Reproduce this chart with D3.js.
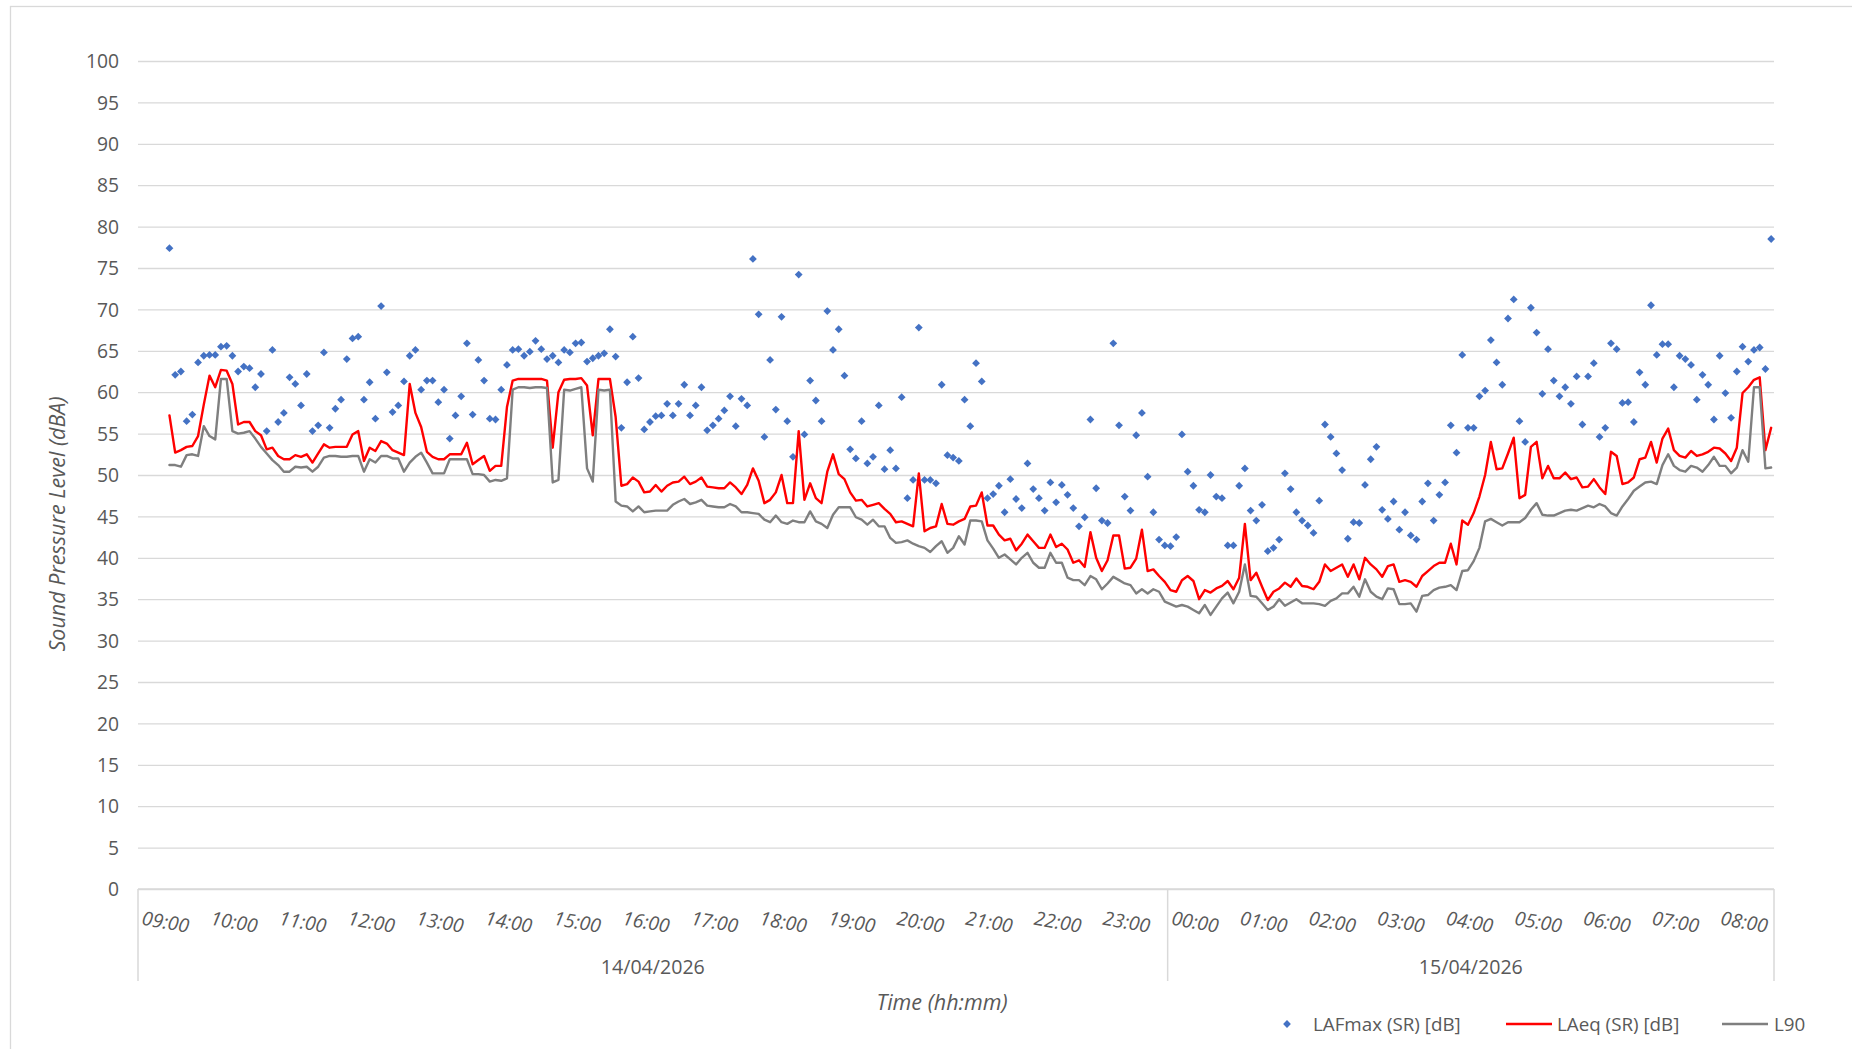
<!DOCTYPE html>
<meta charset="utf-8">
<style>
body { margin: 0; background: #fff; }
text { font-family: "Open Sans", "DejaVu Sans", sans-serif; fill: #595959; }
.grid line { stroke: #d9d9d9; stroke-width: 1.3px; }
.grid .domain { display: none; }
.grid text { font-size: 19.3px; }
.xlab { font-size: 19.3px; font-style: italic; }
.datelab { font-size: 19.6px; }
.title { font-size: 21.5px; font-style: italic; }
.legend text { font-size: 18.8px; }
.series { fill: none; stroke-width: 2.4px; stroke-linejoin: round; stroke-linecap: round; }
</style>
<svg width="1852" height="1049"></svg>
<script src="https://d3js.org/d3.v7.min.js"></script>
<script>
// category axis: 5-minute slots, data starts at slot 5 (09:00)
var slotCount = 286;
var firstSlot = 5;
var slotsPerHour = 12;
var hourLabels = ["09:00", "10:00", "11:00", "12:00", "13:00", "14:00", "15:00", "16:00",
  "17:00", "18:00", "19:00", "20:00", "21:00", "22:00", "23:00", "00:00", "01:00", "02:00",
  "03:00", "04:00", "05:00", "06:00", "07:00", "08:00"];
var dateLabels = ["14/04/2026", "15/04/2026"];
var dateSlotCounts = [180, 106];
var yTicks = [0, 5, 10, 15, 20, 25, 30, 35, 40, 45, 50, 55, 60, 65, 70, 75, 80, 85, 90, 95, 100];

var lafmax = [
  77.4, 62.1, 62.5, 56.5, 57.3, 63.6, 64.4, 64.5, 64.5, 65.5,
  65.6, 64.4, 62.5, 63.1, 62.9, 60.6, 62.2, 55.3, 65.1, 56.4,
  57.5, 61.8, 61.0, 58.4, 62.2, 55.3, 56.0, 64.8, 55.7, 58.0,
  59.1, 64.0, 66.5, 66.7, 59.1, 61.2, 56.8, 70.4, 62.4, 57.6,
  58.4, 61.3, 64.4, 65.1, 60.3, 61.4, 61.4, 58.8, 60.3, 54.4,
  57.2, 59.5, 65.9, 57.3, 63.9, 61.4, 56.8, 56.7, 60.3, 63.3,
  65.1, 65.2, 64.4, 64.9, 66.2, 65.2, 64.0, 64.4, 63.6, 65.1,
  64.8, 65.9, 66.0, 63.7, 64.1, 64.4, 64.7, 67.6, 64.3, 55.7,
  61.2, 66.7, 61.7, 55.5, 56.4, 57.1, 57.2, 58.6, 57.2, 58.6,
  60.9, 57.2, 58.4, 60.6, 55.4, 56.0, 56.8, 57.8, 59.5, 55.9,
  59.2, 58.4, 76.1, 69.4, 54.6, 63.9, 57.9, 69.1, 56.5, 52.2,
  74.2, 54.9, 61.4, 59.0, 56.5, 69.8, 65.1, 67.6, 62.0, 53.1,
  52.0, 56.5, 51.4, 52.2, 58.4, 50.7, 53.0, 50.8, 59.4, 47.2,
  49.4, 67.8, 49.4, 49.4, 49.0, 60.9, 52.4, 52.1, 51.7, 59.1,
  55.9, 63.5, 61.3, 47.2, 47.7, 48.7, 45.5, 49.5, 47.1, 46.0,
  51.4, 48.3, 47.2, 45.7, 49.1, 46.7, 48.8, 47.6, 46.0, 43.8,
  44.9, 56.7, 48.4, 44.5, 44.2, 65.9, 56.0, 47.4, 45.7, 54.8,
  57.5, 49.8, 45.5, 42.2, 41.5, 41.4, 42.5, 54.9, 50.4, 48.7,
  45.8, 45.5, 50.0, 47.4, 47.2, 41.5, 41.5, 48.7, 50.8, 45.7,
  44.5, 46.4, 40.8, 41.2, 42.2, 50.2, 48.3, 45.5, 44.5, 43.9,
  43.0, 46.9, 56.1, 54.6, 52.6, 50.6, 42.3, 44.3, 44.2, 48.8,
  51.9, 53.4, 45.8, 44.7, 46.8, 43.4, 45.5, 42.7, 42.2, 46.8,
  49.0, 44.5, 47.6, 49.1, 56.0, 52.7, 64.5, 55.7, 55.7, 59.5,
  60.2, 66.3, 63.6, 60.9, 68.9, 71.2, 56.5, 54.0, 70.2, 67.2,
  59.8, 65.2, 61.4, 59.5, 60.6, 58.6, 61.9, 56.1, 61.9, 63.5,
  54.6, 55.7, 65.9, 65.2, 58.7, 58.8, 56.4, 62.4, 60.9, 70.5,
  64.5, 65.8, 65.8, 60.6, 64.4, 64.0, 63.3, 59.1, 62.1, 60.9,
  56.7, 64.4, 59.9, 56.9, 62.5, 65.5, 63.7, 65.1, 65.4, 62.8,
  78.5];

var laeq = [
  57.2, 52.7, 53.0, 53.4, 53.5, 54.7, 58.5, 62.0, 60.6, 62.7,
  62.6, 61.0, 56.1, 56.4, 56.4, 55.3, 54.8, 53.1, 53.3, 52.3,
  51.9, 51.9, 52.4, 52.2, 52.5, 51.5, 52.6, 53.7, 53.3, 53.4,
  53.4, 53.4, 54.9, 55.3, 51.7, 53.3, 52.9, 54.1, 53.8, 53.0,
  52.7, 52.4, 61.0, 57.5, 55.8, 52.8, 52.2, 51.9, 51.9, 52.5,
  52.5, 52.5, 53.9, 51.3, 51.8, 52.3, 50.5, 51.1, 51.1, 58.2,
  61.4, 61.6, 61.6, 61.6, 61.6, 61.6, 61.4, 53.3, 60.0, 61.5,
  61.6, 61.6, 61.7, 60.8, 54.8, 61.6, 61.6, 61.6, 57.0, 48.7,
  48.9, 49.7, 49.2, 47.9, 48.0, 48.8, 48.0, 48.7, 49.1, 49.2,
  49.8, 48.9, 49.2, 49.7, 48.6, 48.5, 48.4, 48.4, 49.1, 48.5,
  47.7, 48.8, 50.8, 49.3, 46.6, 47.0, 47.9, 50.0, 46.6, 46.6,
  55.3, 47.0, 49.0, 47.2, 46.6, 50.4, 52.5, 50.1, 49.5, 47.9,
  46.9, 47.0, 46.2, 46.4, 46.6, 45.9, 45.3, 44.3, 44.4, 44.1,
  43.8, 50.2, 43.2, 43.6, 43.8, 46.5, 44.1, 44.0, 44.4, 44.7,
  46.2, 46.3, 47.9, 43.9, 43.9, 42.8, 42.1, 42.3, 40.9, 41.7,
  42.8, 42.0, 41.2, 41.2, 42.8, 41.3, 41.7, 41.0, 39.4, 39.7,
  38.9, 43.1, 40.0, 38.4, 39.7, 42.7, 42.7, 38.7, 38.8, 39.9,
  43.4, 38.4, 38.6, 37.8, 37.1, 36.1, 35.9, 37.3, 37.8, 37.2,
  35.0, 36.1, 35.8, 36.3, 36.6, 37.2, 36.2, 37.6, 44.1, 37.3,
  38.2, 36.5, 34.9, 35.9, 36.3, 37.0, 36.5, 37.5, 36.6, 36.5,
  36.2, 37.1, 39.2, 38.4, 38.8, 39.2, 37.7, 39.2, 37.4, 40.0,
  39.2, 38.6, 37.7, 39.0, 39.2, 37.1, 37.3, 37.1, 36.5, 37.8,
  38.4, 39.0, 39.4, 39.4, 41.7, 39.2, 44.5, 44.0, 45.4, 47.4,
  50.0, 54.0, 50.7, 50.8, 52.6, 54.5, 47.2, 47.6, 53.4, 54.0,
  49.6, 51.1, 49.6, 49.6, 50.3, 49.5, 49.7, 48.5, 48.6, 49.5,
  48.5, 47.7, 52.8, 52.3, 48.9, 49.1, 49.7, 51.9, 52.1, 54.0,
  51.5, 54.4, 55.6, 53.0, 52.3, 52.1, 52.9, 52.3, 52.5, 52.8,
  53.3, 53.2, 52.6, 51.7, 53.3, 59.9, 60.6, 61.5, 61.8, 53.0,
  55.7];

var l90 = [
  51.2, 51.2, 51.0, 52.4, 52.5, 52.3, 55.9, 54.7, 54.3, 61.6,
  61.6, 55.3, 55.0, 55.1, 55.3, 54.4, 53.4, 52.6, 51.8, 51.2,
  50.4, 50.4, 51.0, 50.9, 51.0, 50.4, 51.0, 52.1, 52.3, 52.3,
  52.2, 52.2, 52.3, 52.3, 50.4, 51.9, 51.5, 52.3, 52.3, 52.0,
  52.0, 50.4, 51.5, 52.2, 52.7, 51.5, 50.2, 50.2, 50.2, 51.9,
  51.9, 51.9, 51.9, 50.1, 50.1, 50.0, 49.2, 49.4, 49.3, 49.6,
  60.3, 60.6, 60.6, 60.5, 60.6, 60.6, 60.5, 49.1, 49.4, 60.3,
  60.2, 60.4, 60.6, 50.8, 49.2, 60.3, 60.2, 60.3, 46.8, 46.3,
  46.2, 45.6, 46.2, 45.5, 45.6, 45.7, 45.7, 45.7, 46.4, 46.8,
  47.1, 46.5, 46.7, 47.0, 46.3, 46.2, 46.1, 46.1, 46.5, 46.2,
  45.5, 45.5, 45.4, 45.3, 44.6, 44.3, 45.1, 44.3, 44.1, 44.5,
  44.3, 44.3, 45.6, 44.4, 44.1, 43.6, 45.2, 46.1, 46.1, 46.1,
  44.9, 44.6, 44.0, 44.6, 43.8, 43.8, 42.4, 41.8, 41.9, 42.1,
  41.7, 41.4, 41.2, 40.7, 41.4, 42.0, 40.6, 41.2, 42.6, 41.6,
  44.5, 44.5, 44.4, 42.1, 41.1, 40.0, 40.4, 39.8, 39.2, 40.0,
  40.6, 39.4, 38.8, 38.8, 40.6, 39.4, 39.4, 37.6, 37.3, 37.3,
  36.7, 37.8, 37.4, 36.2, 36.9, 37.7, 37.3, 36.9, 36.7, 35.7,
  36.2, 35.7, 36.2, 35.9, 34.7, 34.4, 34.1, 34.3, 34.1, 33.7,
  33.3, 34.3, 33.1, 34.1, 35.1, 35.8, 34.5, 35.9, 39.2, 35.4,
  35.3, 34.5, 33.7, 34.1, 35.0, 34.2, 34.6, 35.0, 34.5, 34.5,
  34.5, 34.4, 34.2, 34.8, 35.1, 35.7, 35.7, 36.5, 35.3, 37.4,
  35.9, 35.3, 35.0, 36.3, 36.2, 34.4, 34.4, 34.5, 33.5, 35.4,
  35.5, 36.1, 36.4, 36.5, 36.7, 36.1, 38.4, 38.5, 39.6, 41.2,
  44.4, 44.7, 44.3, 43.9, 44.3, 44.3, 44.3, 44.8, 45.8, 46.6,
  45.2, 45.1, 45.1, 45.4, 45.7, 45.8, 45.7, 46.0, 46.3, 46.1,
  46.5, 46.2, 45.4, 45.1, 46.2, 47.1, 48.1, 48.6, 49.1, 49.2,
  48.9, 51.2, 52.5, 51.1, 50.6, 50.4, 51.1, 50.9, 50.4, 51.2,
  52.2, 51.1, 51.1, 50.2, 50.9, 53.0, 51.6, 60.6, 60.6, 50.8,
  50.9];

var svg = d3.select("svg"),
    width = +svg.attr("width"),
    height = +svg.attr("height");

var margin = {left: 138, right: 78, top: 61, bottom: 160},
    plotL = margin.left,
    plotR = width - margin.right,
    plotT = margin.top,
    plotB = height - margin.bottom;

// chart border (right/bottom edges run off the picture)
svg.append("rect")
    .attr("x", 10.5).attr("y", 6.5)
    .attr("width", width).attr("height", height)
    .attr("fill", "none").attr("stroke", "#d9d9d9").attr("stroke-width", 1.3);

var x = d3.scaleBand()
    .domain(d3.range(slotCount))
    .range([plotL, plotR]);

var y = d3.scaleLinear()
    .domain([0, 100])
    .range([plotB, plotT]);

function cx(slot) { return x(slot) + x.bandwidth() / 2; }

// gridlines + y labels
svg.append("g")
    .attr("class", "grid")
    .attr("transform", "translate(" + plotL + ",0)")
    .call(d3.axisLeft(y).tickValues(yTicks).tickSize(-(plotR - plotL)).tickPadding(19))
    .selectAll("text").attr("dy", "0.35em");

// category axis: hour labels, date level and separators
var xAxis = svg.append("g").attr("class", "xaxis");

xAxis.append("line")
    .attr("x1", plotL).attr("x2", plotR)
    .attr("y1", plotB).attr("y2", plotB)
    .attr("stroke", "#d9d9d9").attr("stroke-width", 1.5);

xAxis.selectAll(".xlab")
    .data(hourLabels)
    .enter().append("text")
    .attr("class", "xlab")
    .attr("text-anchor", "middle")
    .attr("dy", "0.35em")
    .attr("transform", function(d, i) {
      return "translate(" + (cx(firstSlot + i * slotsPerHour) - 4) + "," + (plotB + 33) + ") rotate(10)";
    })
    .text(function(d) { return d; });

var bounds = [0];
dateSlotCounts.forEach(function(c, i) { bounds.push(bounds[i] + c); });

xAxis.selectAll(".sep")
    .data(bounds)
    .enter().append("line")
    .attr("class", "sep")
    .attr("x1", function(b) { return b < slotCount ? x(b) : plotR; })
    .attr("x2", function(b) { return b < slotCount ? x(b) : plotR; })
    .attr("y1", plotB).attr("y2", plotB + 92)
    .attr("stroke", "#d9d9d9").attr("stroke-width", 1.5);

xAxis.selectAll(".datelab")
    .data(dateLabels)
    .enter().append("text")
    .attr("class", "datelab")
    .attr("text-anchor", "middle")
    .attr("x", function(d, i) {
      var a = x(bounds[i]), b = bounds[i + 1] < slotCount ? x(bounds[i + 1]) : plotR;
      return (a + b) / 2;
    })
    .attr("y", plotB + 85)
    .text(function(d) { return d; });

// axis titles
svg.append("text")
    .attr("class", "title")
    .attr("text-anchor", "middle")
    .attr("transform", "translate(57,524) rotate(-90)")
    .attr("dy", "0.35em")
    .text("Sound Pressure Level (dBA)");

svg.append("text")
    .attr("class", "title")
    .attr("text-anchor", "middle")
    .attr("x", 942).attr("y", 1002)
    .attr("dy", "0.35em")
    .text("Time (hh:mm)");

// series
function px(d, i) { return cx(firstSlot + i); }

var diamond = "M0,-3.9L3.9,0L0,3.9L-3.9,0Z";

svg.append("g")
    .selectAll("path")
    .data(lafmax)
    .enter().append("path")
    .attr("d", diamond)
    .attr("fill", "#4472c4")
    .attr("transform", function(d, i) { return "translate(" + px(d, i) + "," + y(d) + ")"; });

var line = d3.line()
    .x(px)
    .y(function(d) { return y(d); });

svg.append("path")
    .datum(laeq)
    .attr("class", "series")
    .attr("stroke", "#ff0000")
    .attr("d", line);

svg.append("path")
    .datum(l90)
    .attr("class", "series")
    .attr("stroke", "#7f7f7f")
    .attr("d", line);

// legend
var legend = svg.append("g").attr("class", "legend").attr("transform", "translate(0,1024)");

legend.append("path")
    .attr("d", diamond)
    .attr("fill", "#4472c4")
    .attr("transform", "translate(1287,0)");
legend.append("text").attr("x", 1313).attr("dy", "0.35em").text("LAFmax (SR) [dB]");

legend.append("line")
    .attr("x1", 1506).attr("x2", 1552)
    .attr("stroke", "#ff0000").attr("stroke-width", 2.4);
legend.append("text").attr("x", 1557).attr("dy", "0.35em").text("LAeq (SR) [dB]");

legend.append("line")
    .attr("x1", 1722).attr("x2", 1768)
    .attr("stroke", "#7f7f7f").attr("stroke-width", 2.4);
legend.append("text").attr("x", 1774).attr("dy", "0.35em").text("L90");
</script>
